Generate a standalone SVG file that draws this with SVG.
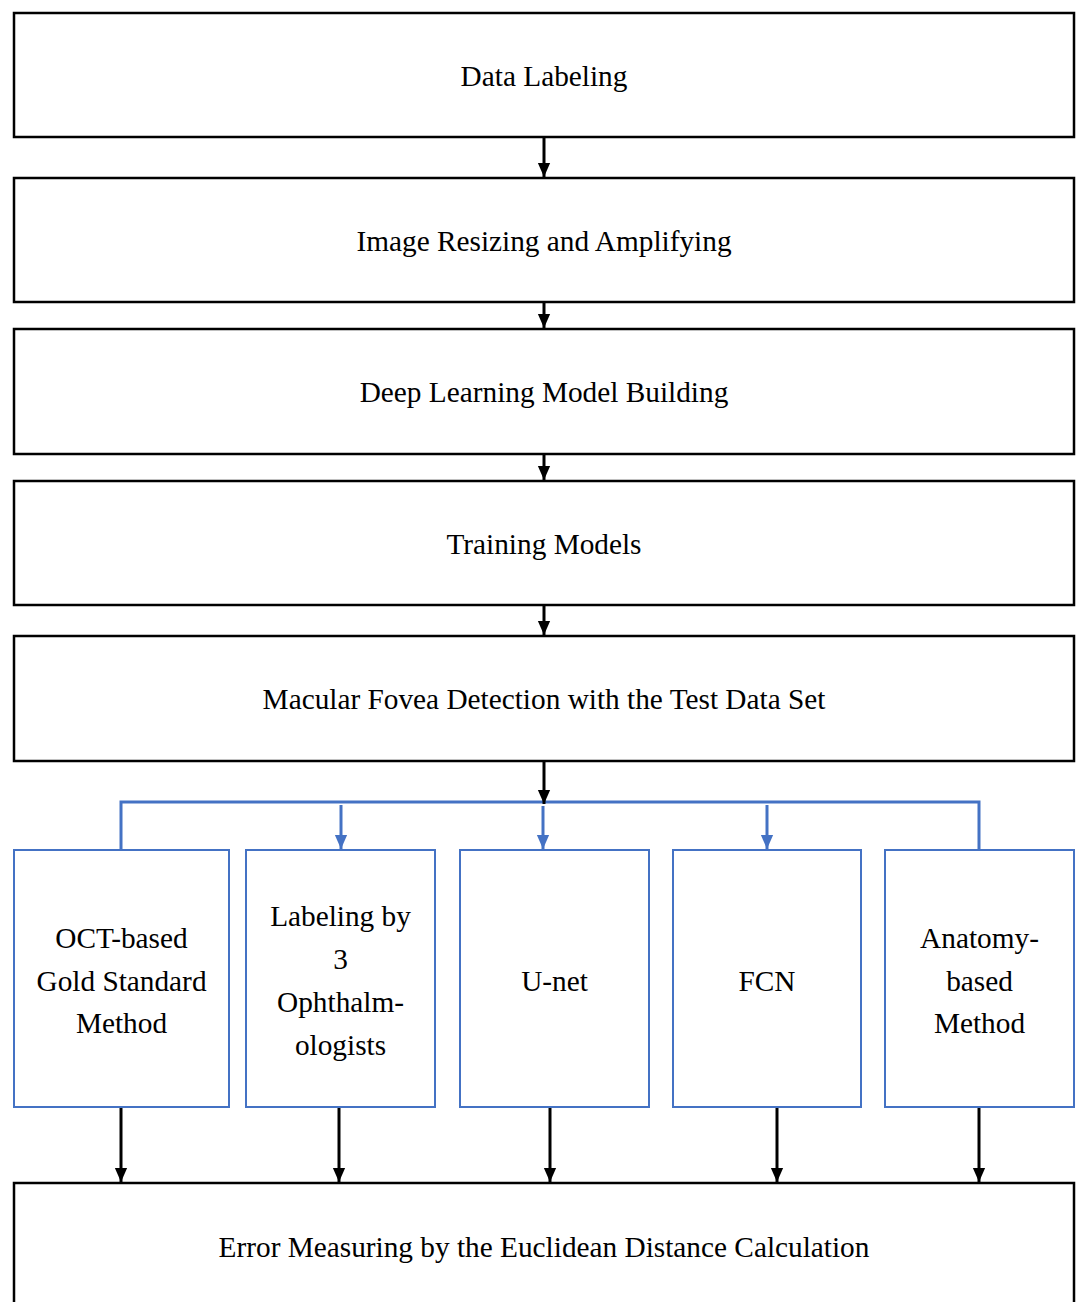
<svg xmlns="http://www.w3.org/2000/svg" width="1078" height="1302" viewBox="0 0 1078 1302">
<defs>
<marker id="ak" markerWidth="14" markerHeight="16" refX="16" refY="7" orient="auto" markerUnits="userSpaceOnUse" viewBox="0 0 16 14">
<path d="M0,0 L16,7 L0,14 z" fill="#000"/>
</marker>
<marker id="ab" markerWidth="14" markerHeight="16" refX="16" refY="7" orient="auto" markerUnits="userSpaceOnUse" viewBox="0 0 16 14">
<path d="M0,0 L16,7 L0,14 z" fill="#4472C4"/>
</marker>
<style>
.bk{fill:#fff;stroke:#000;stroke-width:2.5}
.bl{fill:#fff;stroke:#4472C4;stroke-width:2}
.t{font-family:'Liberation Serif','Times New Roman',serif;font-size:29.3px;fill:#000;text-anchor:middle}
.ck{stroke:#000;stroke-width:3;fill:none}
.cb{stroke:#4472C4;stroke-width:3;fill:none}
</style>
</defs>
<rect width="1078" height="1302" fill="#fff"/>
<g id="connectors">
<line class="ck" x1="544" y1="137" x2="544" y2="177" marker-end="url(#ak)"/>
<line class="ck" x1="544" y1="302" x2="544" y2="328" marker-end="url(#ak)"/>
<line class="ck" x1="544" y1="454" x2="544" y2="480" marker-end="url(#ak)"/>
<line class="ck" x1="544" y1="605" x2="544" y2="635" marker-end="url(#ak)"/>
<polyline class="cb" points="121,850 121,802 979,802 979,850"/>
<line class="ck" x1="544" y1="761" x2="544" y2="804" marker-end="url(#ak)"/>
<line class="cb" x1="341" y1="805" x2="341" y2="849" marker-end="url(#ab)"/>
<line class="cb" x1="543" y1="806" x2="543" y2="849" marker-end="url(#ab)"/>
<line class="cb" x1="767" y1="805" x2="767" y2="849" marker-end="url(#ab)"/>
<line class="ck" x1="121" y1="1107" x2="121" y2="1182" marker-end="url(#ak)"/>
<line class="ck" x1="339" y1="1107" x2="339" y2="1182" marker-end="url(#ak)"/>
<line class="ck" x1="550" y1="1107" x2="550" y2="1182" marker-end="url(#ak)"/>
<line class="ck" x1="777" y1="1107" x2="777" y2="1182" marker-end="url(#ak)"/>
<line class="ck" x1="979" y1="1107" x2="979" y2="1182" marker-end="url(#ak)"/>
</g>
<g id="n1"><rect class="bk" x="14" y="13" width="1060" height="124"/><text class="t" x="544" y="86">Data Labeling</text></g>
<g id="n2"><rect class="bk" x="14" y="178" width="1060" height="124"/><text class="t" x="544" y="251">Image Resizing and Amplifying</text></g>
<g id="n3"><rect class="bk" x="14" y="329" width="1060" height="125"/><text class="t" x="544" y="402">Deep Learning Model Building</text></g>
<g id="n4"><rect class="bk" x="14" y="481" width="1060" height="124"/><text class="t" x="544" y="554">Training Models</text></g>
<g id="n5"><rect class="bk" x="14" y="636" width="1060" height="125"/><text class="t" x="544" y="709">Macular Fovea Detection with the Test Data Set</text></g>
<g id="b1"><rect class="bl" x="14" y="850" width="215" height="257"/><text class="t" x="121.5" y="948">OCT-based</text><text class="t" x="121.5" y="991">Gold Standard</text><text class="t" x="121.5" y="1033">Method</text></g>
<g id="b2"><rect class="bl" x="246" y="850" width="189" height="257"/><text class="t" x="340.5" y="926">Labeling by</text><text class="t" x="340.5" y="969">3</text><text class="t" x="340.5" y="1012">Ophthalm-</text><text class="t" x="340.5" y="1055">ologists</text></g>
<g id="b3"><rect class="bl" x="460" y="850" width="189" height="257"/><text class="t" x="554.5" y="991">U-net</text></g>
<g id="b4"><rect class="bl" x="673" y="850" width="188" height="257"/><text class="t" x="767" y="991">FCN</text></g>
<g id="b5"><rect class="bl" x="885" y="850" width="189" height="257"/><text class="t" x="979.5" y="948">Anatomy-</text><text class="t" x="979.5" y="991">based</text><text class="t" x="979.5" y="1033">Method</text></g>
<g id="n6"><rect class="bk" x="14" y="1183" width="1060" height="130"/><text class="t" x="544" y="1257">Error Measuring by the Euclidean Distance Calculation</text></g>
</svg>
